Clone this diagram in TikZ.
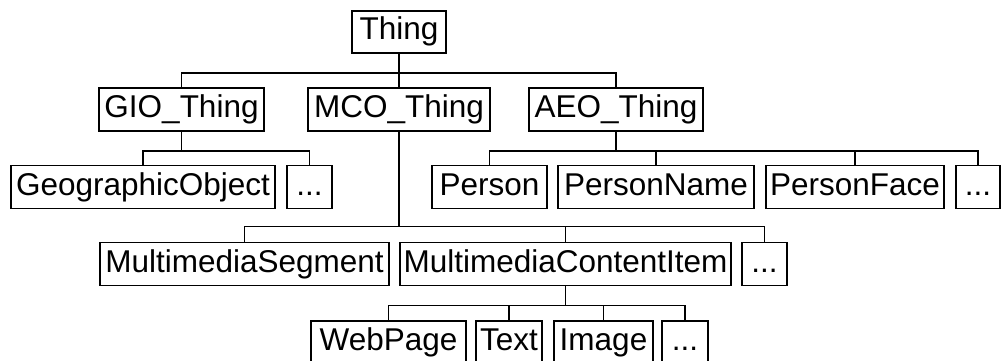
\documentclass[tikz,border=0pt]{standalone}
\usepackage{fontspec}
\setmainfont{Liberation Sans}
\begin{document}
\begin{tikzpicture}[x=1pt,y=-1pt,
  cls/.style={draw,line width=1.8pt,inner sep=0pt,minimum height=43pt,
    font=\fontsize{31.5}{34}\selectfont,text height=24pt,text depth=8pt},
  link/.style={line width=1.8pt}]
\useasboundingbox (0,0) rectangle (1001,361);
% root
\node[cls,minimum width=94pt,minimum height=42pt] (thing) at (399,32) {Thing};
% second level
\node[cls,minimum width=165pt] (gio) at (181.5,109.5) {GIO\_Thing};
\node[cls,minimum width=182pt] (mco) at (399,109.5) {MCO\_Thing};
\node[cls,minimum width=174pt] (aeo) at (616,109.5) {AEO\_Thing};
% GIO children
\node[cls,minimum width=264pt] (geo) at (143,187) {GeographicObject};
\node[cls,minimum width=45pt] (giomore) at (309.5,187) {...};
% AEO children
\node[cls,minimum width=115pt] (person) at (489.5,187) {Person};
\node[cls,minimum width=196pt] (pname) at (656,187) {PersonName};
\node[cls,minimum width=178pt] (pface) at (855,187) {PersonFace};
\node[cls,minimum width=44pt] (aeomore) at (978,187) {...};
% MCO children
\node[cls,minimum width=289pt] (mseg) at (244.5,264) {MultimediaSegment};
\node[cls,minimum width=331pt] (mci) at (565.5,264) {MultimediaContentItem};
\node[cls,minimum width=45pt] (mcomore) at (764.5,264) {...};
% MultimediaContentItem children
\node[cls,minimum width=155pt] (web) at (388.5,342.5) {WebPage};
\node[cls,minimum width=66pt] (text) at (509,342.5) {Text};
\node[cls,minimum width=99pt] (image) at (603.5,342.5) {Image};
\node[cls,minimum width=46pt] (mcimore) at (685,342.5) {...};
% tree connectors
\foreach \c in {gio,mco,aeo} \draw[link] (thing.south) -- ++(0,19) -| (\c.north);
\foreach \c in {geo,giomore} \draw[link] (gio.south) -- ++(0,19) -| (\c.north);
\foreach \c in {person,pname,pface,aeomore} \draw[link] (aeo.south) -- ++(0,19) -| (\c.north);
\foreach \c in {mseg,mci,mcomore} \draw[link] (mco.south) -- ++(0,94.5) -| (\c.north);
\foreach \c in {web,text,image,mcimore} \draw[link] (mci.south) -- ++(0,19) -| (\c.north);
\end{tikzpicture}
\end{document}
